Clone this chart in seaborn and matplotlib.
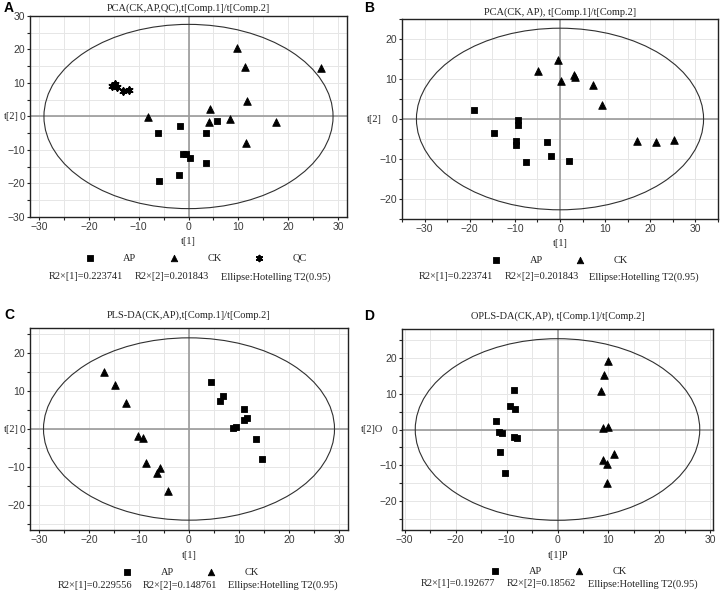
import matplotlib
matplotlib.use("Agg")
import matplotlib.pyplot as plt
import matplotlib.transforms as mtransforms
from matplotlib.patches import Ellipse
from matplotlib.ticker import MultipleLocator
import numpy as np
import pandas as pd
import seaborn as sns

# ---------------- data ----------------
# Panel A: PCA (CK, AP, QC)
a_ap_x = [-6.2, -1.7, -5.9, -1.2, -0.5, 0.4, -2.0, 3.5, 3.5, 5.7]
a_ap_y = [-5.0, -2.9, -19.3, -11.3, -11.2, -12.5, -17.4, -14.0, -5.0, -1.2]
a_ck_x = [-8.1, 4.3, 4.2, 8.3, 9.8, 11.3, 11.8, 11.5, 17.5, 26.5]
a_ck_y = [-0.2, 2.1, -1.7, -0.6, 20.3, 14.9, 4.6, -7.9, -1.6, 14.4]
a_qc_x = [-15.3, -14.7, -14.3, -13.2, -12.0]
a_qc_y = [9.2, 9.7, 8.8, 7.5, 7.8]

# Panel B: PCA (CK, AP)
b_ap_x = [-19.0, -14.6, -9.3, -9.3, -9.7, -9.7, -7.6, -2.8, -2.1, 1.9]
b_ap_y = [2.3, -3.6, -0.2, -1.4, -5.5, -6.6, -10.8, -5.8, -9.2, -10.5]
b_ck_x = [-4.8, -0.4, 0.2, 3.1, 3.3, 7.4, 9.2, 17.0, 21.2, 25.3]
b_ck_y = [12.0, 14.7, 9.5, 11.0, 10.4, 8.5, 3.4, -5.6, -5.8, -5.2]

# Panel C: PLS-DA (CK, AP)
c_ap_x = [4.4, 6.2, 6.8, 8.7, 9.4, 11.0, 11.0, 11.5, 13.3, 14.6]
c_ap_y = [12.4, 7.5, 8.6, 0.2, 0.5, 5.3, 2.3, 2.8, -2.7, -8.0]
c_ck_x = [-17.1, -14.8, -12.6, -10.2, -9.2, -8.7, -5.8, -6.4, -4.2]
c_ck_y = [15.1, 11.5, 7.0, -1.9, -2.3, -9.1, -10.4, -11.5, -16.4]

# Panel D: OPLS-DA (CK, AP)
d_ap_x = [-12.0, -11.4, -10.8, -11.3, -10.3, -9.4, -8.6, -8.4, -8.6, -7.9]
d_ap_y = [2.3, -0.6, -0.9, -6.3, -12.1, 6.6, 11.0, 5.8, -2.2, -2.5]
d_ck_x = [10.0, 9.2, 8.6, 9.0, 9.9, 8.9, 9.8, 11.1, 9.7]
d_ck_y = [19.2, 15.2, 10.8, 0.3, 0.8, -8.6, -9.7, -6.8, -15.0]

titles = ["PCA(CK,AP,QC),t[Comp.1]/t[Comp.2]",
          "PCA(CK, AP), t[Comp.1]/t[Comp.2]",
          "PLS-DA(CK,AP),t[Comp.1]/t[Comp.2]",
          "OPLS-DA(CK,AP), t[Comp.1]/t[Comp.2]"]
panel_letters = ["A", "B", "C", "D"]
xlabels = ["t[1]", "t[1]", "t[1]", "t[1]P"]
ylabels = ["t[2]", "t[2]", "t[2]", "t[2]O"]
r2x1 = ["R2×[1]=0.223741", "R2×[1]=0.223741", "R2×[1]=0.229556", "R2×[1]=0.192677"]
r2x2 = ["R2×[2]=0.201843", "R2×[2]=0.201843", "R2×[2]=0.148761", "R2×[2]=0.18562"]
ellipse_txt = ["Ellipse:Hotelling T2(0.95)"] * 4

# Hotelling T2 ellipse semi-axes (t1, t2)
ellipse_axes = [(29.0, 27.5), (31.8, 22.7), (29.1, 24.1), (27.9, 25.3)]

# ---------------- layout ----------------
W, H = 720, 594
fig = plt.figure(figsize=(7.2, 5.94), dpi=100)
sns.set_style("white")
plt.rcParams["font.family"] = ["Liberation Sans", "DejaVu Sans"]

def rect(l, t, r, b):
    return [l / W, 1 - b / H, (r - l) / W, (b - t) / H]

ax_rects = [rect(30, 16, 347, 217), rect(402, 19, 718, 219),
            rect(30, 328, 348, 530), rect(402, 329, 713, 530)]
xlims = [(-31.8, 31.8), (-35, 35), (-31.8, 31.8), (-30.5, 30.5)]
ylims = [(-30, 30), (-25, 25), (-26.7, 26.7), (-28, 28)]

panels = [
    {"AP": (a_ap_x, a_ap_y), "CK": (a_ck_x, a_ck_y), "QC": (a_qc_x, a_qc_y)},
    {"AP": (b_ap_x, b_ap_y), "CK": (b_ck_x, b_ck_y)},
    {"AP": (c_ap_x, c_ap_y), "CK": (c_ck_x, c_ck_y)},
    {"AP": (d_ap_x, d_ap_y), "CK": (d_ck_x, d_ck_y)},
]
markers = {"AP": "s", "CK": "^", "QC": (6, 2, 0)}
sizes = {"AP": 22, "CK": 30, "QC": 22}
lws = {"AP": 0.6, "CK": 0.6, "QC": 1.4}

# text positions (pixels)
title_pos = [(188, 8), (560, 12), (189, 315), (558, 316)]
letter_pos = [(4, 8), (364, 8), (4, 315), (364, 316)]
xlabel_pos = [(188, 242), (560, 244), (189, 555), (558, 555)]
ylabel_x = [11, 374, 11, 372]
legend_pos = [(193, 258), (557, 260), (188, 572), (556, 571)]
stats_y = [277, 277, 585, 584]
stats_x = [(49, 135, 221), (419, 505, 589), (58, 143, 228), (421, 507, 588)]

serif = ["Liberation Serif", "DejaVu Serif"]

for i in range(4):
    ax = fig.add_axes(ax_rects[i])
    rows = []
    for grp, (xs, ys) in panels[i].items():
        for x, y in zip(xs, ys):
            rows.append({"t1": x, "t2": y, "class": grp})
    df = pd.DataFrame(rows)
    order = list(panels[i].keys())

    ax.set_xlim(*xlims[i])
    ax.set_ylim(*ylims[i])
    ax.xaxis.set_major_locator(MultipleLocator(10))
    ax.xaxis.set_minor_locator(MultipleLocator(5))
    ax.yaxis.set_major_locator(MultipleLocator(10))
    ax.yaxis.set_minor_locator(MultipleLocator(5))
    ax.grid(True, which="both", color="#e6e6e6", lw=0.7, zorder=0)
    ax.set_axisbelow(True)
    ax.axhline(0, color="#9a9a9a", lw=1.2, zorder=1)
    ax.axvline(0, color="#9a9a9a", lw=1.2, zorder=1)
    ea, eb = ellipse_axes[i]
    ax.add_patch(Ellipse((0, 0), 2 * ea, 2 * eb, fill=False,
                         edgecolor="#303030", lw=0.8, zorder=2))

    for grp in order:
        sub = df[df["class"] == grp]
        sns.scatterplot(data=sub, x="t1", y="t2", ax=ax, marker=markers[grp],
                        s=sizes[grp], color="black", edgecolor="black",
                        linewidth=lws[grp], zorder=3, label=grp, legend=False)

    ax.set_xlabel("")
    ax.set_ylabel("")
    for sp in ax.spines.values():
        sp.set_color("#222222")
        sp.set_linewidth(1.0)
    ax.tick_params(which="major", direction="out", length=2, width=0.8,
                   colors="#222222", labelsize=7.5, labelcolor="#3a3a3a", pad=1.5)
    ax.tick_params(which="minor", direction="out", length=2, width=0.8,
                   colors="#222222")
    ax.tick_params(left=True, bottom=True, which="both")

    tr = mtransforms.blended_transform_factory(fig.transFigure, ax.transData)
    ax.text(ylabel_x[i] / W, 0, ylabels[i], transform=tr, ha="center",
            va="center", fontsize=7.5, family=serif, color="#222222")

    fig.text(title_pos[i][0] / W, 1 - title_pos[i][1] / H, titles[i],
             ha="center", va="center", fontsize=7.5, family=serif, color="#222222")
    fig.text(letter_pos[i][0] / W, 1 - letter_pos[i][1] / H, panel_letters[i],
             ha="left", va="center", fontsize=10, fontweight="bold", color="black")
    fig.text(xlabel_pos[i][0] / W, 1 - xlabel_pos[i][1] / H, xlabels[i],
             ha="center", va="center", fontsize=7.5, family=serif, color="#222222")

    handles, labels = ax.get_legend_handles_labels()
    leg = fig.legend(handles, labels, loc="center",
                     bbox_to_anchor=(legend_pos[i][0] / W, 1 - legend_pos[i][1] / H),
                     ncol=len(order), frameon=False, handletextpad=2.2,
                     columnspacing=2.6, prop={"family": serif, "size": 7.5},
                     markerscale=0.85, borderaxespad=0, borderpad=0)
    for t in leg.get_texts():
        t.set_color("#222222")

    for txt, xp in zip([r2x1[i], r2x2[i], ellipse_txt[i]], stats_x[i]):
        fig.text(xp / W, 1 - stats_y[i] / H, txt, ha="left", va="center",
                 fontsize=7.5, family=serif, color="#222222")

fig.savefig("out.png", dpi=100)
